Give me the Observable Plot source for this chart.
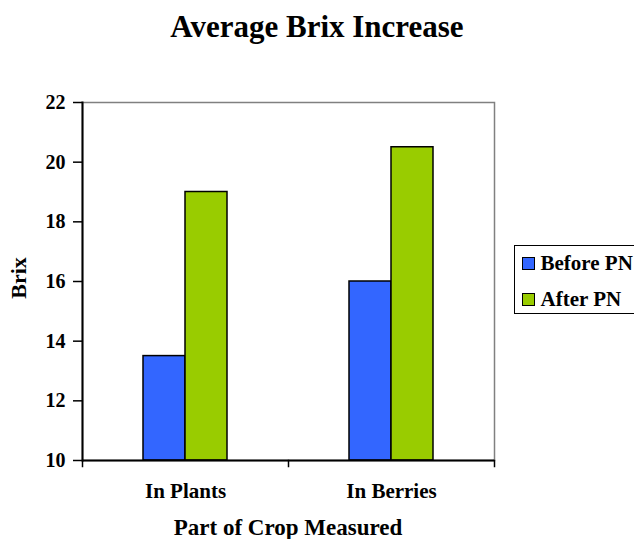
<!DOCTYPE html>
<html>
<head>
<meta charset="utf-8">
<script src="https://cdn.jsdelivr.net/npm/d3@7"></script>
<script src="https://cdn.jsdelivr.net/npm/@observablehq/plot@0.6"></script>
<style>
  html, body { margin: 0; padding: 0; background: white; }
  #wrap { position: relative; width: 634px; height: 539px; overflow: hidden; background: white;
          font-family: "Liberation Serif", "Times New Roman", serif; font-weight: bold; color: black; }
  #title { position: absolute; left: 0; width: 634px; top: 11px; text-align: center; font-size: 31px; line-height: 31px; white-space: nowrap; }
  #ylabel { position: absolute; left: 19px; top: 278px; transform: translate(-50%, -50%) rotate(-90deg);
            font-size: 22px; line-height: 22px; white-space: nowrap; }
  #xlabel { position: absolute; left: 82px; width: 412px; top: 516px; text-align: center; font-size: 23px; line-height: 23px; white-space: nowrap; }
  #legend { position: absolute; left: 514px; top: 245px; width: 150px; height: 69px; box-sizing: border-box;
            border: 1.5px solid black; font-size: 21px; line-height: 21px; }
  .item { position: absolute; left: 6.5px; display: flex; align-items: center; white-space: nowrap; height: 21px; }
  .sw { width: 13px; height: 13px; border: 1.5px solid black; margin-right: 6px; box-sizing: border-box; }
  #chart { position: absolute; left: 0; top: 0; }
</style>
</head>
<body>
<div id="wrap">
  <div id="chart"></div>
  <div id="title"></div>
  <div id="ylabel"></div>
  <div id="xlabel"></div>
  <div id="legend"></div>
</div>
<script>
const titleText = "Average Brix Increase";
const yLabel = "Brix";
const xLabel = "Part of Crop Measured";
const categories = ["In Plants", "In Berries"];
const series = ["Before PN", "After PN"];
const beforeValues = [13.5, 16];
const afterValues = [19, 20.5];
const yTicks = [10, 12, 14, 16, 18, 20, 22];
const colors = ["#3366FF", "#99CC00"];

const data = categories.flatMap((c, i) => [
  {category: c, series: series[0], value: beforeValues[i]},
  {category: c, series: series[1], value: afterValues[i]}
]);

document.getElementById("title").textContent = titleText;
document.getElementById("ylabel").textContent = yLabel;
document.getElementById("xlabel").textContent = xLabel;

const legend = document.getElementById("legend");
series.forEach((s, i) => {
  const it = document.createElement("div");
  it.className = "item";
  it.style.top = (7 + i * 36) + "px";
  const sw = document.createElement("div");
  sw.className = "sw";
  sw.style.background = colors[i];
  const t = document.createElement("span");
  t.textContent = s;
  it.appendChild(sw); it.appendChild(t);
  legend.appendChild(it);
});

const plotH = 358;
const chart = Plot.plot({
  width: 634, height: 539,
  marginLeft: 82, marginRight: 140, marginTop: 102, marginBottom: 79,
  style: {fontFamily: "'Liberation Serif', 'Times New Roman', serif", fontWeight: "bold", fontSize: "20px", background: "transparent", color: "black"},
  fx: {domain: categories, padding: 0, label: null, axis: null},
  x: {domain: series, paddingInner: 0, paddingOuter: 1.42, axis: null},
  y: {domain: [10, 22], label: null, axis: null},
  color: {domain: series, range: colors},
  marks: [
    Plot.frame({stroke: "#808080", strokeWidth: 1.5, facet: "super"}),
    Plot.barY(data, {fx: "category", x: "series", y1: 10, y2: "value", fill: "series", stroke: "black", strokeWidth: 1.5}),
    Plot.ruleY([10], {stroke: "black", strokeWidth: 2}),
    Plot.frame({anchor: "left", facetAnchor: "left", stroke: "black", strokeWidth: 2}),
    Plot.frame({anchor: "left", stroke: "black", strokeWidth: 1.5, insetTop: plotH, insetBottom: -6}),
    Plot.frame({anchor: "right", facetAnchor: "right", stroke: "black", strokeWidth: 1.5, insetTop: plotH, insetBottom: -6}),
    Plot.axisY({ticks: yTicks, tickSize: 9, tickPadding: 8, tickFormat: d => d, fontSize: 20, label: null, strokeWidth: 1.5}),
    Plot.axisFx({anchor: "bottom", tickSize: 0, tickPadding: 23, fontSize: 21, label: null})
  ]
});
document.getElementById("chart").appendChild(chart);
</script>
</body>
</html>
